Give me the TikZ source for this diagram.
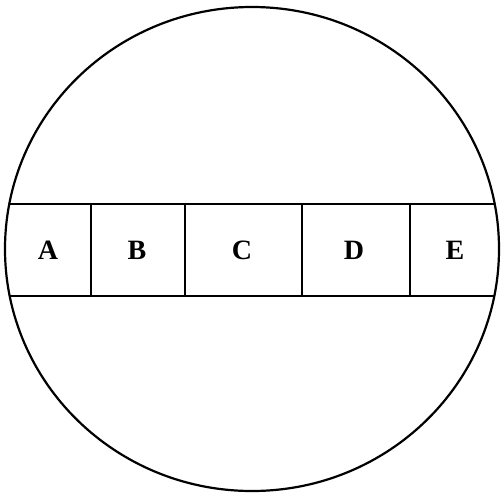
\documentclass[tikz,border=0pt]{standalone}
\usepackage{fontspec}
\setmainfont{Liberation Serif}

\begin{document}
\begin{tikzpicture}[x=1pt, y=-1pt, line width=2.2pt,
  cell/.style={font=\bfseries\fontsize{28}{28}\selectfont, inner sep=0pt}]
  %% page frame, same size as the reference
  \useasboundingbox (0,0) rectangle (503,493);
  %% outer circle
  \draw (252,249) ellipse [x radius=247pt, y radius=242pt];
  %% band across the circle
  \begin{scope}
    \clip (252,249) ellipse [x radius=247pt, y radius=242pt];
    \coordinate (tl) at (0,204);   \coordinate (tr) at (503,204);
    \coordinate (bl) at (0,296);   \coordinate (br) at (503,296);
    \draw (tl) -- (tr);
    \draw (bl) -- (br);
  \end{scope}
  %% dividers between the cells
  \foreach \x in {91,185,302,410}{
    \draw (\x,204) -- (\x,296);
  }
  %% cell letters
  \foreach \n/\x in {A/48, B/137, C/242, D/354, E/455}{
    \node[cell] (\n) at (\x,250) {\n};
  }
\end{tikzpicture}
\end{document}
